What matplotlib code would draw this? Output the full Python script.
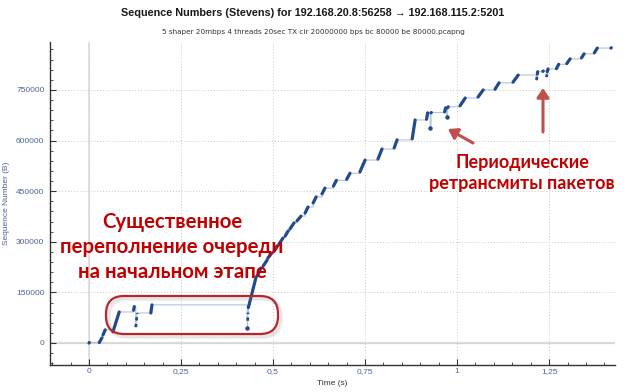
import numpy as np
import matplotlib
matplotlib.use('Agg')
import matplotlib.pyplot as plt
from matplotlib.patches import FancyBboxPatch, FancyArrowPatch
from matplotlib.ticker import MultipleLocator, FuncFormatter

# Packet runs: (t0, seq0) -> (t1, seq1), kind
seg_t0 = [0.000, 0.028, 0.038, 0.065, 0.121, 0.127, 0.168, 0.430, 0.431, 0.433,
          0.457, 0.473, 0.486, 0.503, 0.516, 0.533, 0.546, 0.565, 0.587, 0.609,
          0.633, 0.664, 0.700, 0.736, 0.785, 0.829, 0.878, 0.917, 0.927, 0.929,
          0.966, 0.972, 0.974, 1.008, 1.057, 1.103, 1.152, 1.216, 1.218, 1.233,
          1.243, 1.245, 1.270, 1.298, 1.338, 1.373, 1.418]
seg_t1 = [0.001, 0.035, 0.044, 0.082, 0.123, 0.131, 0.171, 0.430, 0.432, 0.454,
          0.467, 0.484, 0.497, 0.511, 0.527, 0.541, 0.557, 0.576, 0.595, 0.617,
          0.641, 0.672, 0.709, 0.750, 0.796, 0.837, 0.886, 0.920, 0.927, 0.930,
          0.969, 0.972, 0.976, 1.022, 1.071, 1.114, 1.166, 1.217, 1.219, 1.234,
          1.244, 1.247, 1.276, 1.307, 1.345, 1.381, 1.419]
seg_s0 = [0, 1500, 24000, 33000, 97000, 47000, 89000, 44000, 66000, 105000,
          199000, 228000, 252000, 273000, 293000, 317000, 338000, 362000, 385000, 415000,
          442000, 465000, 485000, 507000, 545000, 578000, 605000, 663000, 637000, 682000,
          685000, 670000, 697000, 703000, 729000, 752000, 773000, 779000, 797000, 805000,
          788000, 804000, 813000, 828000, 845000, 860000, 874000]
seg_s1 = [1500, 15000, 39000, 92000, 108000, 89000, 113000, 44000, 90000, 196000,
          222000, 246000, 267000, 288000, 311000, 332000, 356000, 376000, 403000, 433000,
          459000, 482000, 503000, 542000, 575000, 602000, 661000, 682000, 637000, 683000,
          697000, 670000, 700000, 726000, 750000, 771000, 794000, 790000, 804000, 806000,
          796000, 812000, 826000, 842000, 857000, 874000, 875000]
seg_kind = ['d', 'd', 'd', 'd', 'd', 'r', 'd', 'r', 'r', 'd',
            'd', 'd', 'd', 'd', 'd', 'd', 'd', 'd', 'd', 'd',
            'd', 'd', 'd', 'd', 'd', 'd', 'd', 'd', 'r', 'd',
            'd', 'r', 'd', 'd', 'd', 'd', 'd', 'r', 'd', 'd',
            'r', 'd', 'd', 'd', 'd', 'd', 'd']

x_ticks = [0, 0.25, 0.5, 0.75, 1.0, 1.25]
y_ticks = [0, 150000, 300000, 450000, 600000, 750000]

title = 'Sequence Numbers (Stevens) for 192.168.20.8:56258 \u2192 192.168.115.2:5201'
subtitle = '5 shaper 20mbps 4 threads 20sec TX cir 20000000 bps bc 80000 be 80000.pcapng'
note_left = '\u0421\u0443\u0449\u0435\u0441\u0442\u0432\u0435\u043d\u043d\u043e\u0435\n\u043f\u0435\u0440\u0435\u043f\u043e\u043b\u043d\u0435\u043d\u0438\u0435 \u043e\u0447\u0435\u0440\u0435\u0434\u0438\n\u043d\u0430 \u043d\u0430\u0447\u0430\u043b\u044c\u043d\u043e\u043c \u044d\u0442\u0430\u043f\u0435'
note_right = '\u041f\u0435\u0440\u0438\u043e\u0434\u0438\u0447\u0435\u0441\u043a\u0438\u0435\n\u0440\u0435\u0442\u0440\u0430\u043d\u0441\u043c\u0438\u0442\u044b \u043f\u0430\u043a\u0435\u0442\u043e\u0432'

W, H = 627, 392
fig = plt.figure(figsize=(W / 100, H / 100), dpi=100)
ax = fig.add_axes([50 / W, 1 - 365 / H, 565 / W, 323 / H])

navy = '#234a8a'
thin = '#b3c3dc'
label_col = '#4a6694'
small_font = ['Liberation Sans', 'DejaVu Sans']

# thin connecting line: straight inside a run, hold-then-jump between runs
path_t, path_s = [], []
for i in range(len(seg_t0)):
    if i > 0:
        path_t += [seg_t0[i]]
        path_s += [seg_s1[i - 1]]
    path_t += [seg_t0[i], seg_t1[i]]
    path_s += [seg_s0[i], seg_s1[i]]
ax.plot(path_t, path_s, color=thin, lw=0.8, zorder=2)

for a, b, c, d, k in zip(seg_t0, seg_s0, seg_t1, seg_s1, seg_kind):
    if k == 'd':
        ax.plot([a, c], [b, d], color=navy, lw=2.3, solid_capstyle='round', zorder=3)
    elif a == c and b == d:
        ax.plot([a], [b], 'o', color=navy, ms=2.2, zorder=3)
    else:
        ax.plot([a, c], [b, d], color=navy, lw=2.0, ls=(0, (1.2, 1.2)), zorder=3)

ax.set_xlim(-0.106, 1.429)
ax.set_ylim(-65200, 892000)
ax.set_xticks(x_ticks)
ax.set_yticks(y_ticks)
ax.xaxis.set_minor_locator(MultipleLocator(0.05))
ax.yaxis.set_minor_locator(MultipleLocator(30000))
ax.xaxis.set_major_formatter(FuncFormatter(lambda v, p: ('%g' % v).replace('.', ',')))
ax.yaxis.set_major_formatter(FuncFormatter(lambda v, p: '%d' % v))

for s in ['top', 'right']:
    ax.spines[s].set_visible(False)
for s in ['left', 'bottom']:
    ax.spines[s].set_color('#333333')
    ax.spines[s].set_linewidth(1.0)
ax.tick_params(which='major', direction='in', length=4, width=0.8, color='#333333',
               labelsize=6, labelcolor=label_col, pad=4)
ax.tick_params(axis='x', which='major', pad=2.5)
ax.tick_params(which='minor', direction='in', length=2, width=0.6, color='#333333')
for lab in ax.get_xticklabels() + ax.get_yticklabels():
    lab.set_family(small_font)

ax.grid(True, which='major', linestyle=(0, (1, 2)), color='#c8c8c8', lw=0.7, zorder=0)
ax.axhline(0, color='#dcdcdc', lw=1.6, zorder=1)
ax.axvline(0, color='#dcdcdc', lw=1.2, zorder=1)

ax.set_xlabel('Time (s)', fontsize=6, color='#333333', labelpad=3, family=small_font)
ax.set_ylabel('Sequence Number (B)', fontsize=6, color=label_col, labelpad=4.5,
              family=small_font)

fig.text(313 / W, 1 - 13 / H, title, ha='center', va='center', fontsize=7.8,
         family=small_font, fontweight='bold', color='#1a1a1a')
fig.text(313 / W, 1 - 32 / H, subtitle, ha='center', va='center', fontsize=5.2,
         color='#333333')

px = fig.dpi_scale_trans


def P(x, y):
    return (x / 100, (H - y) / 100)


# rounded box with a soft shadow
for dx, dy, al in [(3, 3, 0.10), (2, 2, 0.12)]:
    sh = FancyBboxPatch(P(106 + dx, 334 + dy), 1.72, 0.38,
                        boxstyle='round,pad=0,rounding_size=0.18',
                        transform=px, fc='none', ec='#888888', lw=3, alpha=al)
    fig.add_artist(sh)
box = FancyBboxPatch(P(106, 334), 1.72, 0.38, boxstyle='round,pad=0,rounding_size=0.18',
                     transform=px, fc='none', ec='#b8262b', lw=1.6)
fig.add_artist(box)

red = '#c00000'
fig.text(*P(172, 247), note_left, transform=px, ha='center', va='center', fontsize=14.7,
         fontfamily='Lato', fontweight='bold', color=red, linespacing=1.3)
fig.text(*P(522, 173), note_right, transform=px, ha='center', va='center', fontsize=13,
         fontfamily='Lato', fontweight='bold', color=red, linespacing=1.3)

arrow_col = '#c0504d'
for (x0, y0), (x1, y1) in [((473, 143), (448, 129)), ((543, 132), (543, 88))]:
    ar = FancyArrowPatch(P(x0, y0), P(x1, y1), transform=px,
                         arrowstyle='-|>,head_length=0.45,head_width=0.3',
                         mutation_scale=12, color=arrow_col, lw=2.2, shrinkA=0, shrinkB=0)
    fig.add_artist(ar)

fig.savefig('out.png', dpi=100)
